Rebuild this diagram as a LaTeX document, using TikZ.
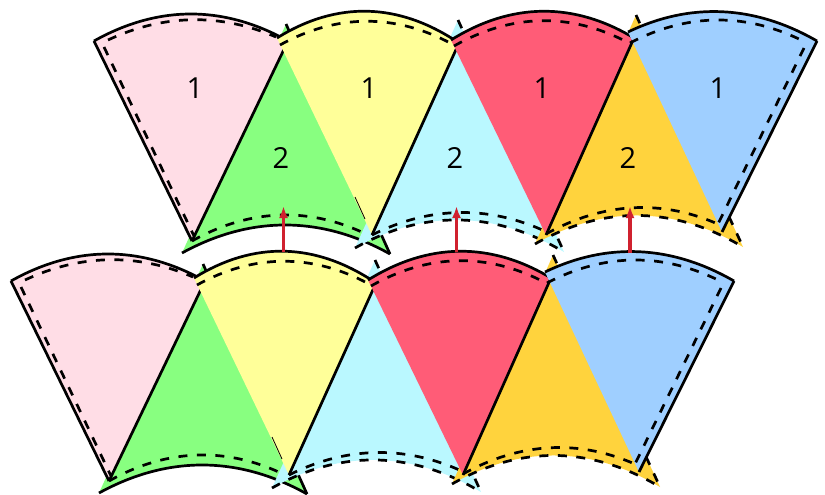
\documentclass[tikz,border=0pt]{standalone}
\usepackage{fontspec}
\usepackage{xcolor}
\usetikzlibrary{arrows.meta,calc}
\setmainfont{Open Sans}
\definecolor{petal}{HTML}{FFDDE6}
\definecolor{lemon}{HTML}{FFFF99}
\definecolor{coral}{HTML}{FF5C77}
\definecolor{sky}{HTML}{9FCFFF}
\definecolor{mint}{HTML}{88FF80}
\definecolor{aqua}{HTML}{BAF8FF}
\definecolor{honey}{HTML}{FFD33D}
\definecolor{liftred}{HTML}{D0212F}
\tikzset{
  cutline/.style={draw=black,line width=2.7pt,line join=round},
  foldline/.style={draw=black,line width=2.7pt,dash pattern=on 9pt off 9.5pt},
  liftarrow/.style={-{Latex[length=12pt,width=9pt]},line width=3.2pt,draw=liftred},
  digit/.style={font=\fontsize{29}{30}\selectfont,text=black,inner sep=0pt}
}
\newcommand{\bentcurve}[3]{(#1) .. controls ($(#1)!0.33!(#2)+(0,#3)$) and ($(#1)!0.67!(#2)+(0,#3)$) .. (#2)}
\newcommand{\fanpiece}[5]{%
  \fill[#1] (#2) -- \bentcurve{#3}{#4}{-#5} -- cycle;
  \draw[cutline] \bentcurve{#3}{#4}{-#5};
  \draw[cutline] (#2) -- (#4);
}
\newcommand{\wedgepiece}[6]{%
  \fill[#1] (#2) -- \bentcurve{#3}{#4}{-#5} -- cycle;
  \draw[#6] \bentcurve{#3}{#4}{-#5};
  \draw[#6] (#2) -- (#4);
}
\newcommand{\stripshapes}{%
  \wedgepiece{mint}{286,24}{182,253}{390,254}{38}{cutline}
  \draw[foldline] \bentcurve{192,241}{372,237}{-32};
  \wedgepiece{aqua}{458,20}{355,248}{564,252}{40}{foldline}
  \draw[foldline] \bentcurve{372,235}{553,235}{-30};
  \wedgepiece{honey}{636,15}{535,244}{743,247}{40}{foldline}
  \draw[foldline] \bentcurve{546,234}{720,225}{-29};
  \fanpiece{petal}{192,241}{94,41}{288,41}{36}
  \draw[cutline] (192,241) -- (94,41);
  \draw[foldline] \bentcurve{108,40}{276,37}{-25};
  \draw[foldline] (104,47) -- (194,236);
  \fanpiece{lemon}{372,235}{277,38}{459,43}{39}
  \draw[foldline] \bentcurve{280,45}{452,44}{-31};
  \draw[black,line width=0.8pt] (355,197) -- (365,219);
  \fanpiece{coral}{546,235}{451,40}{634,38}{37}
  \draw[foldline] \bentcurve{454,46}{627,42}{-31};
  \fanpiece{sky}{722,232}{628,32}{817,41}{33}
  \draw[foldline] \bentcurve{630,43}{805,42}{-30};
  \draw[foldline] (804,48) -- (718,224);
}
\begin{document}
\begin{tikzpicture}[x=1pt,y=-1pt]
  \useasboundingbox (0,0) rectangle (825,495);
  \begin{scope}[shift={(-83,240)}]
    \stripshapes
  \end{scope}
  \stripshapes
  \node[digit] (fan1) at (195,88) {1};
  \node[digit] (fan2) at (369,88) {1};
  \node[digit] (fan3) at (542,88) {1};
  \node[digit] (fan4) at (718,88) {1};
  \node[digit] (wedge1) at (281,158) {2};
  \node[digit] (wedge2) at (455,158) {2};
  \node[digit] (wedge3) at (628,158) {2};
  \coordinate (seat1) at (283.5,252);
  \coordinate (seat2) at (456.5,252);
  \coordinate (seat3) at (630,253);
  \coordinate (lift1) at (283.5,206);
  \coordinate (lift2) at (456.5,206);
  \coordinate (lift3) at (630,206);
  \draw[liftarrow] (seat1) -- (lift1);
  \draw[liftarrow] (seat2) -- (lift2);
  \draw[liftarrow] (seat3) -- (lift3);
\end{tikzpicture}
\end{document}
